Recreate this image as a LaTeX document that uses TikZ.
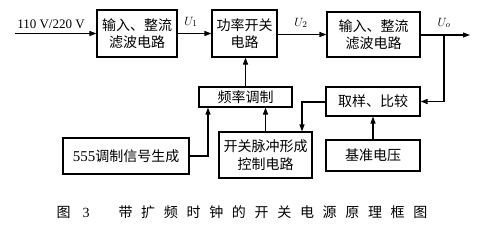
\documentclass[tikz,border=0pt]{standalone}
\usepackage{fontspec}
\setmainfont{Liberation Serif}
\newfontfamily\cjk{Noto Sans CJK SC}
\newfontfamily\cjkcap[LetterSpace=62]{Noto Sans CJK SC}
\usetikzlibrary{arrows.meta}
\begin{document}
\begin{tikzpicture}[x=1pt,y=-1pt,
    blk/.style={draw, rectangle, line width=1.1pt, inner sep=1pt, align=center,
      font=\cjk\fontsize{14}{17.5}\selectfont},
    arr/.style={-{Triangle[length=7pt,width=5pt]}, line width=1.1pt},
    lbl/.style={font=\fontsize{13}{13}\selectfont}]
    \useasboundingbox (0,0) rectangle (478,230);

    \node[blk, minimum width=80pt, minimum height=47pt] (filt1) at (137,33.5) {输入、整流\\滤波电路};
    \node[blk, minimum width=65pt, minimum height=47pt] (sw) at (244.5,33.5) {功率开关\\电路};
    \node[blk, minimum width=93pt, minimum height=45pt] (filt2) at (373.5,34.5) {输入、整流\\滤波电路};
    \node[blk, minimum width=93pt, minimum height=20pt] (fm) at (245.5,97) {频率调制};
    \node[blk, minimum width=94pt, minimum height=29pt] (samp) at (373,101.5) {取样、比较};
    \node[blk, minimum width=126pt, minimum height=36pt] (gen) at (126,156) {{\rmfamily\fontsize{15}{15}\selectfont 555}调制信号生成};
    \node[blk, minimum width=93pt, minimum height=46pt] (pwm) at (265.5,155) {开关脉冲形成\\控制电路};
    \node[blk, minimum width=94pt, minimum height=31pt] (vref) at (373,155.5) {基准电压};

    \coordinate (in) at (15,33.5);
    \coordinate (out) at (470,35);
    \coordinate (tap) at (444,35);
    \coordinate (fb) at (302,102);
    \coordinate (mod) at (208,0);

    \draw[arr] (in) -- (filt1.west);
    \draw[arr] (filt1) -- (sw);
    \draw[arr] (sw.east |- filt2.west) -- (filt2.west);
    \draw[arr] (filt2.east |- out) -- (out);
    \draw[arr] (tap) |- (samp.east);
    \draw[arr] (samp.west |- fb) -- (fb) -- (fb |- pwm.north);
    \draw[arr] (pwm.north) -- (pwm.north |- fm.south);
    \draw[arr] (gen.east) -| (mod |- fm.south);
    \draw[arr] (fm.north) -- (fm.north |- sw.south);
    \draw[arr] (vref.north) -- (samp.south);

    \node[lbl] (vin) at (51,24) {110 V/220 V};
    \node[lbl] (u1) at (191,22) {$U_1$};
    \node[lbl] (u2) at (301,23) {$U_2$};
    \node[lbl] (uo) at (444,23) {$U_o$};

    \node[font=\fontsize{14}{14}\selectfont] (capno) at (73,212) {{\cjk 图}\hspace{12pt}3};
    \node[font=\cjkcap\fontsize{14}{14}\selectfont] (cap) at (273,212) {带扩频时钟的开关电源原理框图};
\end{tikzpicture}
\end{document}
